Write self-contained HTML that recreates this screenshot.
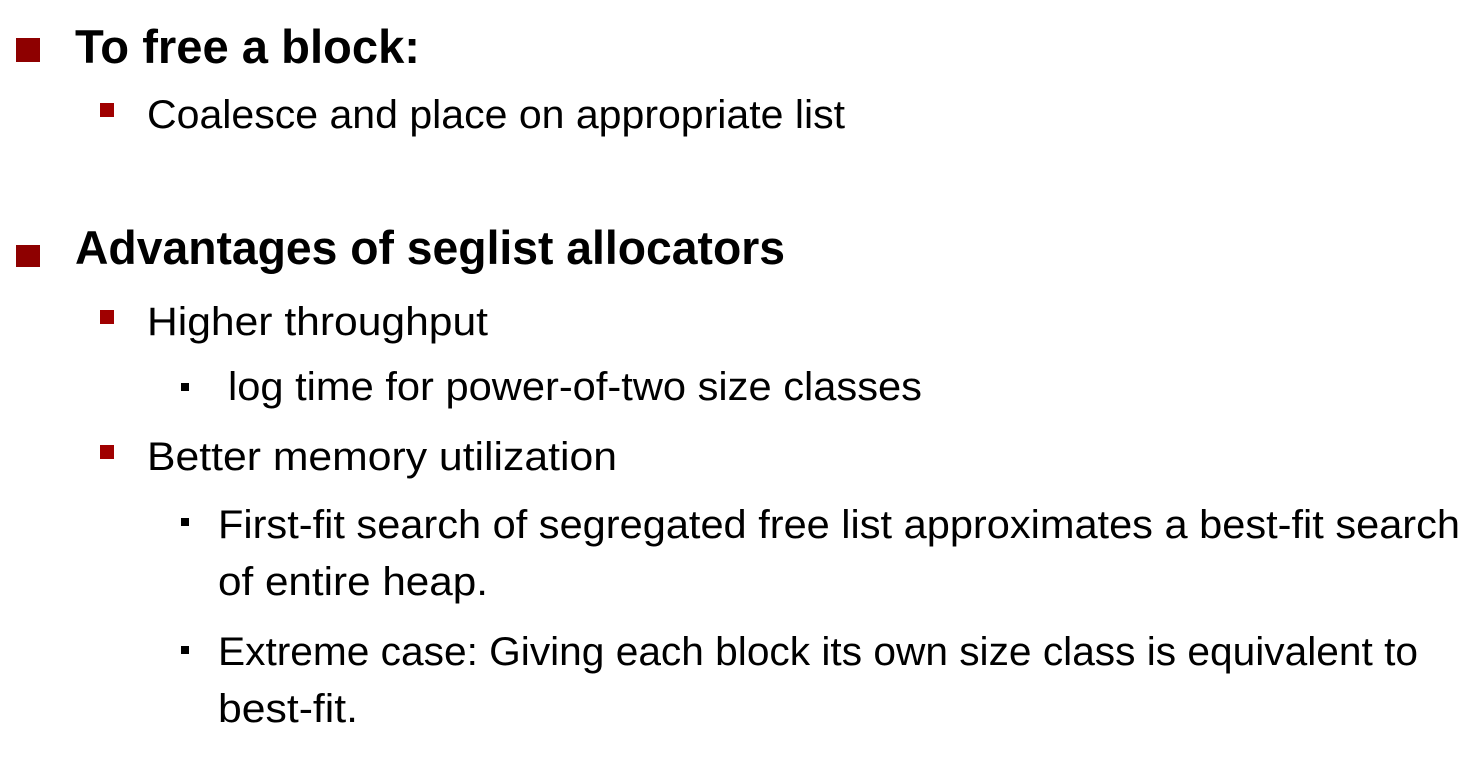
<!DOCTYPE html>
<html><head><meta charset="utf-8"><style>
html,body{margin:0;padding:0;background:#fff;}
svg{display:block;}
text{font-family:"Liberation Sans",sans-serif;fill:#000;}
.b{font-weight:bold;font-size:47px;}
.s{font-size:40px;}
</style></head><body>
<svg width="1484" height="757" viewBox="0 0 1484 757" xmlns="http://www.w3.org/2000/svg">
<rect x="16" y="38" width="24" height="24" fill="#8e0000"/>
<text class="b" x="75" y="63" textLength="345" lengthAdjust="spacingAndGlyphs">To free a block:</text>
<rect x="100" y="103" width="14" height="14" fill="#a00000"/>
<text class="s" x="147" y="128" textLength="698" lengthAdjust="spacingAndGlyphs">Coalesce and place on appropriate list</text>
<rect x="16" y="245" width="24" height="22" fill="#8e0000"/>
<text class="b" x="75" y="264" textLength="710" lengthAdjust="spacingAndGlyphs">Advantages of seglist allocators</text>
<rect x="100" y="310" width="14" height="14" fill="#a00000"/>
<text class="s" x="147" y="335" textLength="341" lengthAdjust="spacingAndGlyphs">Higher throughput</text>
<rect x="181" y="383" width="8" height="8" fill="#000"/>
<text class="s" x="228" y="400" textLength="694" lengthAdjust="spacingAndGlyphs">log time for power-of-two size classes</text>
<rect x="100" y="445" width="14" height="14" fill="#a00000"/>
<text class="s" x="147" y="470" textLength="470" lengthAdjust="spacingAndGlyphs">Better memory utilization</text>
<rect x="181" y="518" width="8" height="8" fill="#000"/>
<text class="s" x="218" y="538" textLength="1242" lengthAdjust="spacingAndGlyphs">First-fit search of segregated free list approximates a best-fit search</text>
<text class="s" x="218" y="595" textLength="270" lengthAdjust="spacingAndGlyphs">of entire heap.</text>
<rect x="181" y="646" width="8" height="8" fill="#000"/>
<text class="s" x="218" y="665" textLength="1200" lengthAdjust="spacingAndGlyphs">Extreme case: Giving each block its own size class is equivalent to</text>
<text class="s" x="218" y="722" textLength="140" lengthAdjust="spacingAndGlyphs">best-fit.</text>
</svg>
</body></html>
